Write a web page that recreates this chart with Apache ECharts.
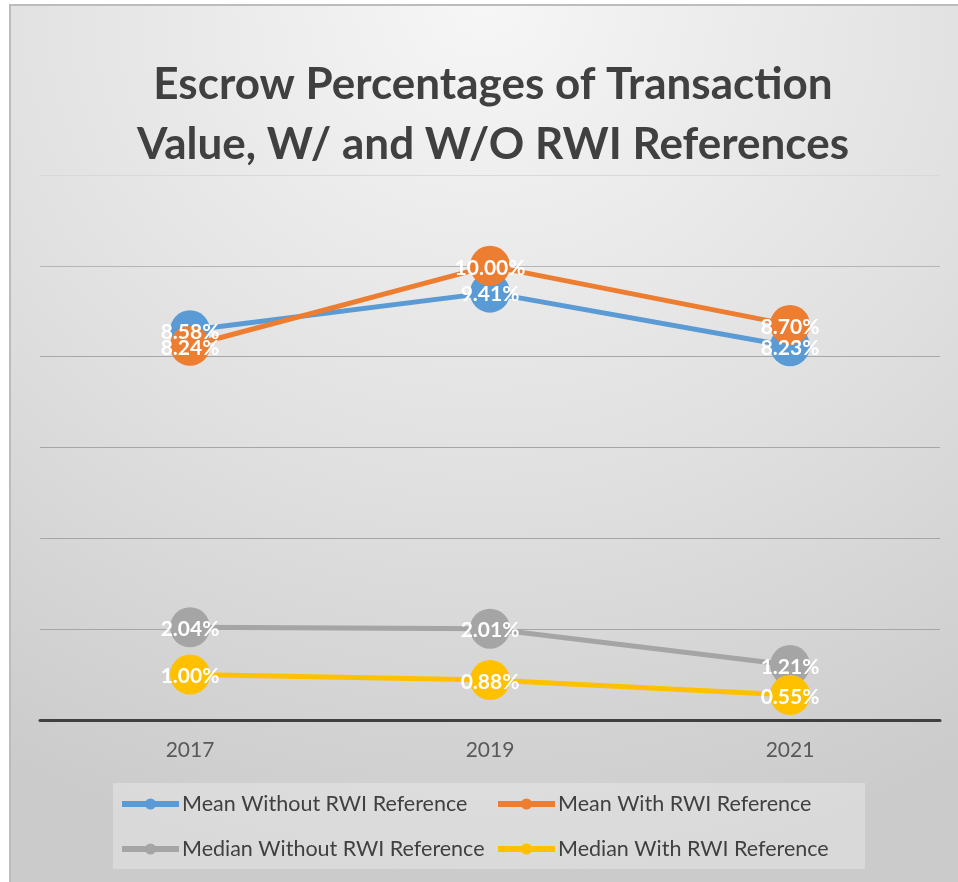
<!DOCTYPE html>
<html>
<head>
<meta charset="utf-8">
<title>Escrow Percentages</title>
<script src="https://cdn.jsdelivr.net/npm/echarts@6/dist/echarts.min.js"></script>
<style>
    html, body { margin: 0; padding: 0; background: #ffffff; }
    /* panel behind the chart: soft radial fill + thin frame on top/left */
    #bg {
        position: absolute; left: 9px; top: 4px; right: 0; bottom: 0;
        border-top: 2px solid #bcbcbc; border-left: 2px solid #bcbcbc;
        background: radial-gradient(ellipse 100% 100% at 50% 0%, #f6f6f6 0%, #e0e0e0 55%, #cbcbcb 100%);
    }
    #main { position: absolute; left: 0; top: 0; width: 958px; height: 882px; }
</style>
</head>
<body>
<div id="bg"></div>
<div id="main"></div>
<script>
// categories
var years = ['2017', '2019', '2021'];
// series values (percent of transaction value)
var meanWithout = [8.58, 9.41, 8.23];
var meanWith = [8.24, 10.00, 8.70];
var medianWithout = [2.04, 2.01, 1.21];
var medianWith = [1.00, 0.88, 0.55];

var seriesNames = [
    'Mean Without RWI Reference',
    'Mean With RWI Reference',
    'Median Without RWI Reference',
    'Median With RWI Reference'
];
var seriesColors = ['#5b9bd5', '#ed7d31', '#a5a5a5', '#ffc000'];
var seriesData = [meanWithout, meanWith, medianWithout, medianWith];

var FONT = 'Lato';

function makeLine(i) {
    return {
        name: seriesNames[i],
        type: 'line',
        data: seriesData[i],
        color: seriesColors[i],
        symbol: 'circle',
        symbolSize: 40,
        lineStyle: { width: 5, color: seriesColors[i] },
        itemStyle: { color: seriesColors[i] },
        label: {
            show: true,
            position: 'inside',
            offset: [0, 2],
            color: '#ffffff',
            fontFamily: FONT,
            fontWeight: 'bold',
            fontSize: 21,
            formatter: function (p) { return p.value.toFixed(2) + '%'; }
        },
        emphasis: { disabled: true },
        animation: false
    };
}

// legend column builder (two columns, stacked vertically)
function makeLegend(names, left) {
    return {
        data: names,
        orient: 'vertical',
        left: left,
        top: 788,
        itemWidth: 57,
        itemHeight: 14,
        itemGap: 23,
        lineStyle: { width: 6 },
        textStyle: { fontFamily: FONT, fontSize: 21.5, lineHeight: 22, color: '#404040', padding: [0, 0, 0, -2] }
    };
}

var chart = echarts.init(document.getElementById('main'));

chart.setOption({
    title: {
        text: 'Escrow Percentages of Transaction\nValue, W/ and W/O RWI References',
        left: 488,
        top: 50,
        textAlign: 'center',
        textStyle: {
            fontFamily: FONT,
            fontWeight: 'bold',
            fontSize: 44,
            lineHeight: 60,
            color: '#404040'
        }
    },
    legend: [
        makeLegend([seriesNames[0], seriesNames[2]], 114),
        makeLegend([seriesNames[1], seriesNames[3]], 490)
    ],
    graphic: [{
        type: 'rect',
        silent: true,
        z: 0,
        shape: { x: 113, y: 783, width: 752, height: 86 },
        style: { fill: 'rgba(255,255,255,0.28)' }
    }],
    grid: { left: 40, right: 18, top: 175, bottom: 162 },
    xAxis: {
        type: 'category',
        data: years,
        boundaryGap: true,
        axisTick: { show: false },
        axisLine: { lineStyle: { color: '#404040', width: 3 } },
        axisLabel: { fontFamily: FONT, fontSize: 21, color: '#595959', margin: 20 }
    },
    yAxis: {
        type: 'value',
        min: 0,
        max: 12,
        interval: 2,
        axisLabel: { show: false },
        axisLine: { show: false },
        axisTick: { show: false },
        splitLine: {
            lineStyle: {
                color: ['#a6a6a6', '#a6a6a6', '#a6a6a6', '#a6a6a6', '#a6a6a6', '#b5b5b5', '#d9d9d9'],
                width: 1
            }
        }
    },
    series: [makeLine(0), makeLine(1), makeLine(2), makeLine(3)]
});
</script>
</body>
</html>
